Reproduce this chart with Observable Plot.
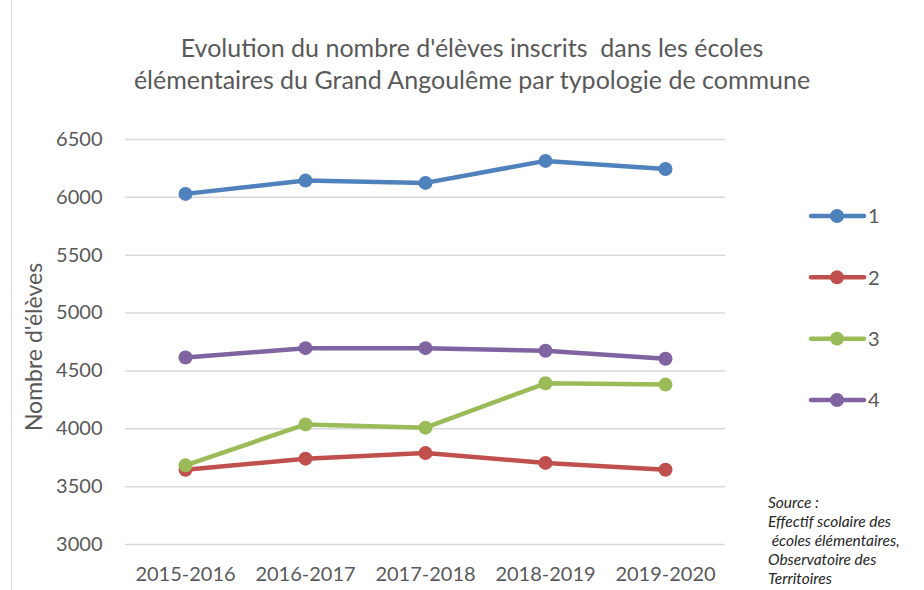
<!DOCTYPE html>
<html>
<head>
<meta charset="utf-8">
<script src="https://cdn.jsdelivr.net/npm/d3@7"></script>
<script src="https://cdn.jsdelivr.net/npm/@observablehq/plot@0.6"></script>
<style>
  html, body { margin: 0; padding: 0; background: #fff; }
  #wrap { position: relative; width: 924px; height: 590px; overflow: hidden; font-family: Lato, "Open Sans", sans-serif; }
  #border { position: absolute; left: 11px; top: 0; width: 1px; height: 590px; background: #d9d9d9; }
  #title { position: absolute; left: 0; width: 944px; top: 31px; text-align: center; color: #595959; font-size: 25px; line-height: 32px; white-space: pre; }
  #ylabel { position: absolute; left: 33px; top: 347px; transform: translate(-50%, -50%) rotate(-90deg); white-space: nowrap; color: #595959; font-size: 23px; }
  #source { position: absolute; left: 768px; top: 493px; font-style: italic; font-size: 15.5px; line-height: 19px; color: #262626; white-space: pre; }
  #legend { position: absolute; left: 0; top: 0; }
  #chart { position: absolute; left: 0; top: 0; }
</style>
</head>
<body>
<div id="wrap">
  <div id="border"></div>
  <div id="chart"></div>
  <div id="title"></div>
  <div id="ylabel"></div>
  <svg id="legend" width="924" height="590"></svg>
  <div id="source"></div>
</div>
<script>
const titleLines = ["Evolution du nombre d'élèves inscrits  dans les écoles", "élémentaires du Grand Angoulême par typologie de commune"];
const yLabel = "Nombre d'élèves";
const sourceLines = ["Source :", "Effectif scolaire des", " écoles élémentaires,", "Observatoire des", "Territoires"];
const years = ["2015-2016", "2016-2017", "2017-2018", "2018-2019", "2019-2020"];
const seriesNames = ["1", "2", "3", "4"];
const series1 = [6030, 6145, 6125, 6315, 6245];
const series2 = [3645, 3742, 3790, 3705, 3646];
const series3 = [3684, 4038, 4010, 4393, 4382];
const series4 = [4616, 4697, 4697, 4675, 4605];
const yTicks = [3000, 3500, 4000, 4500, 5000, 5500, 6000, 6500];
const colors = ["#4f81bd", "#c0504d", "#9bbb59", "#8064a2"];

const allSeries = [series1, series2, series3, series4];
const data = [];
allSeries.forEach((vals, i) => vals.forEach((v, j) => data.push({series: seriesNames[i], year: years[j], value: v})));

const chart = Plot.plot({
  width: 924,
  height: 590,
  marginLeft: 125,
  marginRight: 199,
  marginTop: 139,
  marginBottom: 46,
  style: {fontFamily: "Lato, 'Open Sans', sans-serif", fontSize: "20px", color: "#595959", background: "transparent", overflow: "visible"},
  x: {type: "point", domain: years, padding: 0.5, label: null},
  y: {domain: [3000, 6500], label: null},
  color: {domain: seriesNames, range: colors},
  marks: [
    Plot.gridY(yTicks, {stroke: "#d9d9d9", strokeOpacity: 1, strokeWidth: 1.5}),
    Plot.axisY(yTicks, {tickSize: 0, tickPadding: 23, label: null, fontSize: 20, fill: "#595959", tickFormat: d => String(d)}),
    Plot.axisX(years, {tickSize: 0, tickPadding: 22, label: null, fontSize: 20, fill: "#595959"}),
    Plot.line(data, {x: "year", y: "value", z: "series", stroke: "series", strokeWidth: 4.5, strokeLinejoin: "round", strokeLinecap: "round"}),
    Plot.dot(data, {x: "year", y: "value", fill: "series", r: 7})
  ]
});
document.getElementById("chart").appendChild(chart);

document.getElementById("title").textContent = titleLines.join("\n");
document.getElementById("ylabel").textContent = yLabel;
document.getElementById("source").textContent = sourceLines.join("\n");

// legend
const leg = d3.select("#legend");
const legY = d3.scalePoint().domain(seriesNames).range([216, 400]);
seriesNames.forEach((s, i) => {
  const y = legY(s);
  leg.append("line").attr("x1", 811).attr("x2", 864).attr("y1", y).attr("y2", y)
    .attr("stroke", colors[i]).attr("stroke-width", 4.5).attr("stroke-linecap", "round");
  leg.append("circle").attr("cx", 837).attr("cy", y).attr("r", 7).attr("fill", colors[i]);
  leg.append("text").attr("x", 868).attr("y", y).attr("dy", "0.36em")
    .attr("font-family", "Lato, 'Open Sans', sans-serif").attr("font-size", 20).attr("fill", "#595959").text(s);
});
</script>
</body>
</html>
